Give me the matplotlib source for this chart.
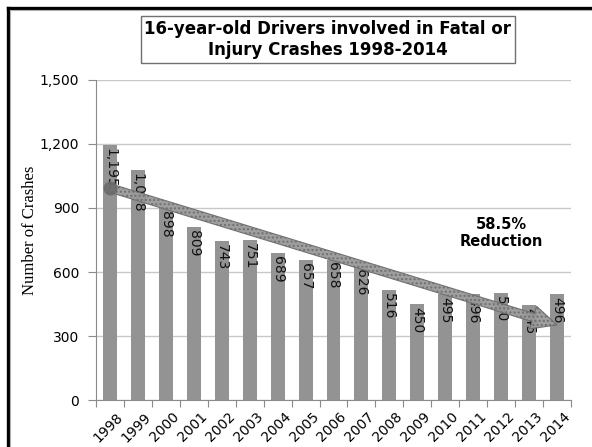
import matplotlib
matplotlib.use("Agg")
import matplotlib.pyplot as plt
from matplotlib.patches import FancyArrowPatch
from matplotlib.lines import Line2D
from matplotlib.ticker import FuncFormatter, FixedLocator
import matplotlib.transforms as mtransforms

years = ["1998", "1999", "2000", "2001", "2002", "2003", "2004", "2005", "2006",
         "2007", "2008", "2009", "2010", "2011", "2012", "2013", "2014"]
crashes = [1195, 1078, 898, 809, 743, 751, 689, 657, 658, 626, 516, 450, 495,
           496, 500, 445, 496]
trend_start = 994
trend_end = 352
yticks = [0, 300, 600, 900, 1200, 1500]
title = "16-year-old Drivers involved in Fatal or\nInjury Crashes 1998-2014"
note = "58.5%\nReduction"

W, H = 592, 447
fig = plt.figure(figsize=(W / 100, H / 100), dpi=100)
fig.patch.set_facecolor("white")

# outer frame (top and left visible)
fig.add_artist(Line2D([7.5 / W, 7.5 / W], [-0.1, 1 - 7.5 / H], transform=fig.transFigure,
                      color="black", lw=2.4, solid_capstyle="projecting"))
fig.add_artist(Line2D([7.5 / W, 1.1], [1 - 7.5 / H, 1 - 7.5 / H], transform=fig.transFigure,
                      color="black", lw=2.4, solid_capstyle="projecting"))
fig.add_artist(Line2D([9.8 / W, 9.8 / W], [-0.1, 1 - 9.8 / H], transform=fig.transFigure,
                      color="#b0b0b0", lw=0.8))
fig.add_artist(Line2D([9.8 / W, 1.1], [1 - 9.8 / H, 1 - 9.8 / H], transform=fig.transFigure,
                      color="#b0b0b0", lw=0.8))

ax = fig.add_axes([96 / W, (H - 400) / H, (571 - 96) / W, (400 - 80) / H])
x = list(range(len(years)))
ax.bar(x, crashes, width=0.5, color="#939393", zorder=2)
ax.set_xlim(-0.5, len(years) - 0.5)
ax.set_ylim(0, 1500)

ax.set_yticks(yticks)
ax.yaxis.set_major_formatter(FuncFormatter(lambda v, p: f"{int(v):,}"))
ax.yaxis.grid(True, color="#c8c8c8", lw=1.0, zorder=0)
ax.set_axisbelow(True)
ax.tick_params(axis="y", length=6, width=0.8, color="#8a8a8a", labelsize=10, pad=6)

ax.set_xticks(x)
ax.set_xticklabels(years, rotation=45, ha="right", rotation_mode="anchor", fontsize=10)
ax.tick_params(axis="x", which="major", length=0, pad=7)
ax.xaxis.set_minor_locator(FixedLocator([i - 0.5 for i in range(len(years) + 1)]))
ax.tick_params(axis="x", which="minor", length=5, width=0.8, color="#8a8a8a")
for lbl in ax.get_xticklabels():
    lbl.set_transform(lbl.get_transform() + mtransforms.ScaledTranslation(6 / 100, 0, fig.dpi_scale_trans))

for s in ["top", "right"]:
    ax.spines[s].set_visible(False)
for s in ["left", "bottom"]:
    ax.spines[s].set_color("#8a8a8a")
    ax.spines[s].set_linewidth(0.8)

ax.set_ylabel("Number of Crashes", family="Liberation Serif", fontsize=12)
ax.yaxis.set_label_coords(-(96 - 38) / (571 - 96), (400 - 230) / 320)

for xi, v in zip(x, crashes):
    ax.annotate(f"{v:,}", (xi, v), xytext=(0, -2), textcoords="offset points",
                rotation=270, ha="center", va="top", fontsize=10, color="#111111", zorder=4)

# trend arrow
arr = FancyArrowPatch((0, trend_start), (len(years) - 1, trend_end),
                      arrowstyle="simple,head_width=1.7,head_length=1.8,tail_width=0.6",
                      mutation_scale=10, facecolor="#9a9a9a", edgecolor="#6e6e6e",
                      hatch="....", lw=0.8, alpha=0.95, zorder=5, shrinkA=0, shrinkB=0)
ax.add_patch(arr)
ax.plot([0], [trend_start], marker="o", ms=9, color="#6a6a6a", alpha=0.85, zorder=6)

ax.text(14.0, 783, note, ha="center", va="center", fontsize=10.5, fontweight="bold", zorder=6)

fig.text((130 + 526) / 2 / W, 1 - 39.5 / H, title, ha="center", va="center",
         fontsize=12, fontweight="bold", linespacing=1.2,
         bbox=dict(boxstyle="square,pad=0.22", facecolor="white", edgecolor="#707070", lw=1))

fig.savefig("out.png", dpi=100, facecolor="white")
